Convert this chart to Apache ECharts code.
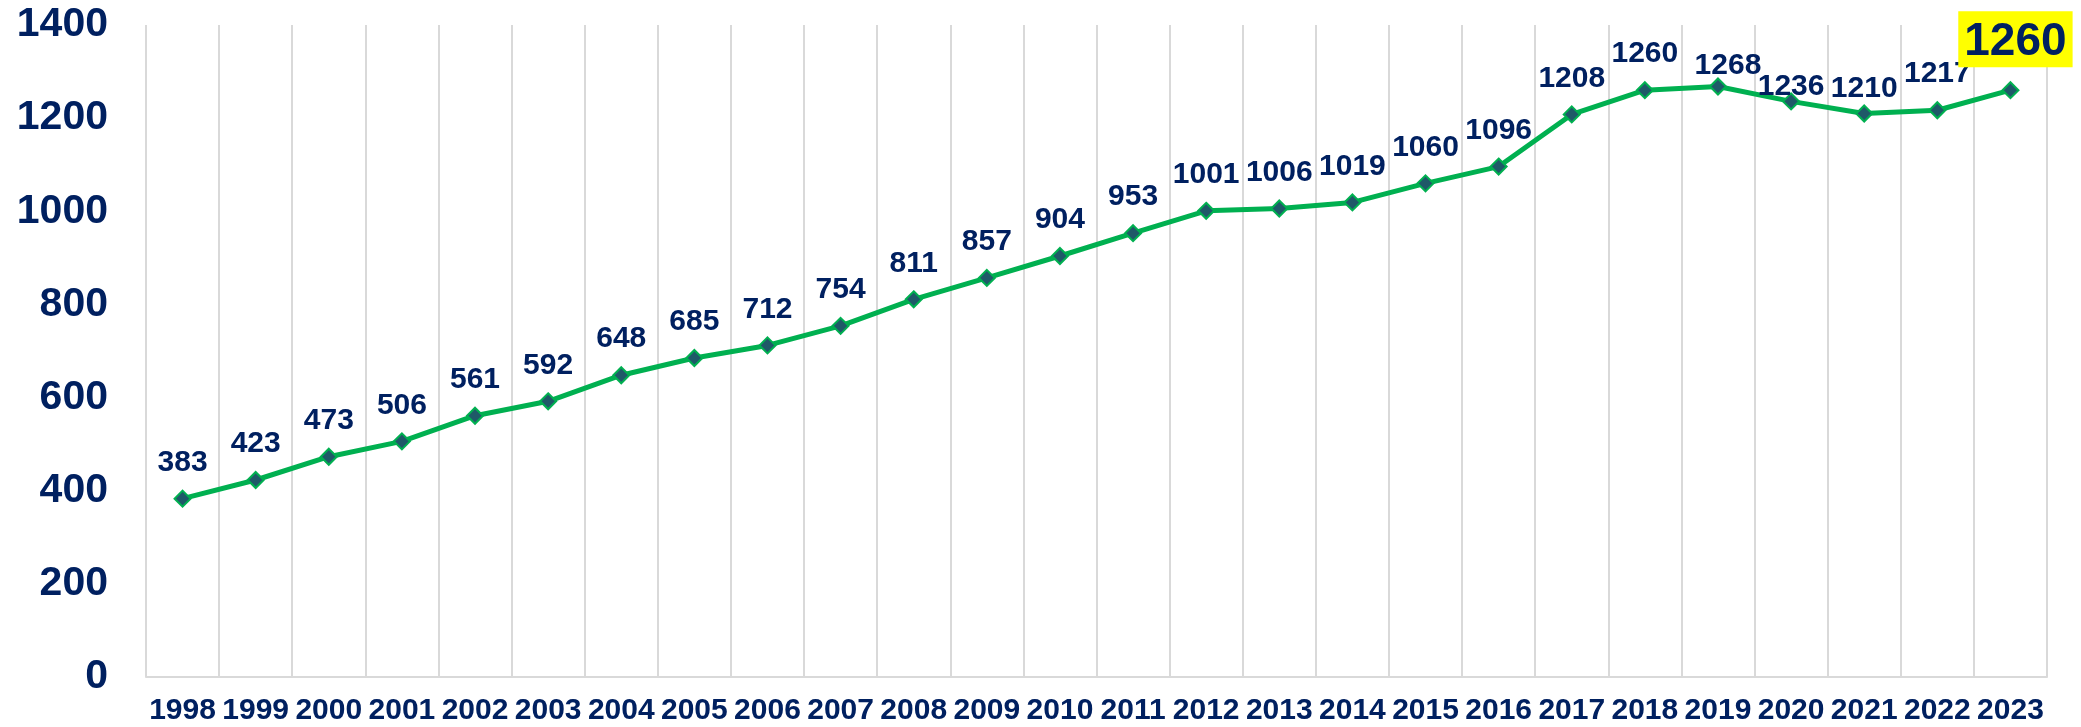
<!DOCTYPE html>
<html>
<head>
<meta charset="utf-8">
<script src="https://cdn.jsdelivr.net/npm/echarts@6/dist/echarts.min.js"></script>
<style>
  html, body { margin: 0; padding: 0; background: #fff; }
  #chart { width: 2081px; height: 727px; }
</style>
</head>
<body>
<div id="chart"></div>
<script>
const years = ['1998', '1999', '2000', '2001', '2002', '2003', '2004', '2005', '2006', '2007',
  '2008', '2009', '2010', '2011', '2012', '2013', '2014', '2015', '2016', '2017',
  '2018', '2019', '2020', '2021', '2022', '2023'];
const values = [383, 423, 473, 506, 561, 592, 648, 685, 712, 754,
  811, 857, 904, 953, 1001, 1006, 1019, 1060, 1096, 1208,
  1260, 1268, 1236, 1210, 1217, 1260];
const yTicks = [0, 200, 400, 600, 800, 1000, 1200, 1400];

const navy = '#002060';
const font = '"Liberation Sans", Arial, sans-serif';

const chart = echarts.init(document.getElementById('chart'));

// a few labels sit lower in the original, last one is highlighted
const labelTweaks = {
  21: { offset: [10, 15] },
  22: { offset: [0, 21] },
  23: { offset: [0, 11] },
  25: {
    fontSize: 46,
    backgroundColor: '#ffff00',
    padding: [8, 6, 2, 6],
    distance: 14,
    offset: [5, 0]
  }
};

const seriesData = values.map((v, i) => labelTweaks[i] ? { value: v, label: labelTweaks[i] } : v);

chart.setOption({
  animation: false,
  grid: { left: 146, right: 34, top: 25, bottom: 50 },
  xAxis: {
    type: 'category',
    data: years,
    boundaryGap: true,
    axisLine: { show: true, lineStyle: { color: '#d9d9d9', width: 2 } },
    axisTick: { show: false },
    axisLabel: {
      interval: 0,
      color: navy,
      fontFamily: font,
      fontWeight: 'bold',
      fontSize: 30,
      margin: 19
    },
    splitLine: { show: true, interval: 0, lineStyle: { color: '#d9d9d9', width: 2 } }
  },
  yAxis: {
    type: 'value',
    min: yTicks[0],
    max: yTicks[yTicks.length - 1],
    interval: 200,
    axisLine: { show: false },
    axisTick: { show: false },
    splitLine: { show: false },
    axisLabel: {
      color: navy,
      fontFamily: font,
      fontWeight: 'bold',
      fontSize: 41,
      margin: 38,
      formatter: v => String(v)
    }
  },
  series: [{
    type: 'line',
    data: seriesData,
    symbol: 'diamond',
    symbolSize: 16,
    lineStyle: { color: '#00b050', width: 5 },
    itemStyle: { color: '#1f5968', borderColor: '#00b050', borderWidth: 2 },
    label: {
      show: true,
      position: 'top',
      distance: 12,
      color: navy,
      fontFamily: font,
      fontWeight: 'bold',
      fontSize: 30
    }
  }]
});
</script>
</body>
</html>
